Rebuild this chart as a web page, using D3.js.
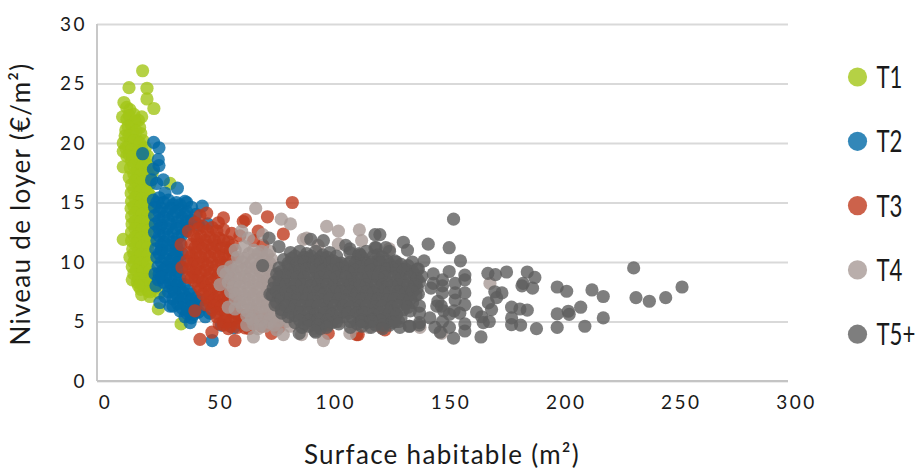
<!DOCTYPE html>
<html><head><meta charset="utf-8">
<script src="https://cdn.jsdelivr.net/npm/d3@7"></script>
<style>html,body{margin:0;background:#fff}svg{display:block}text{font-family:Lato,"Open Sans",sans-serif;font-weight:400;fill:#1a1a1a}</style>
</head><body><div id="c"></div>
<script>
const xTicks=[0,50,100,150,200,250,300];
const yTicks=[0,5,10,15,20,25,30];
const seriesNames=["T1","T2","T3","T4","T5+"];
const seriesColors=["#a2c617","#0069a6","#bf3b1e","#a89a96","#5e5e5e"];
const xTitle="Surface habitable (m²)";
const yTitle="Niveau de loyer (€/m²)";
const t1=[[19.8,26.07],[13.9,24.65],[21.7,24.6],[21.7,23.7],[24.7,22.9],[11.7,23.4],[12.9,23],[14.3,22.8],[11.1,22.2],[19.4,22.2],[16,22.4],[18,21.9],[13,22],[15,21.5],[18.5,21.3],[12.5,21.1],[15.5,20.9],[19,20.8],[12.2,20.6],[14.5,20.3],[17.5,20.2],[20,20.2],[11.4,20],[13.5,19.7],[16.5,19.6],[19.5,19.5],[11.4,19.3],[14,19],[17,19.1],[20.5,18.9],[15,18.5],[18,18.4],[21,18.3],[11.4,18],[14.5,17.9],[17.5,17.7],[21,17.6],[24,17.5],[14,17.1],[17,17],[20,17],[23,17.1],[15,16.5],[18,16.4],[21,16.3],[31.7,16.6],[14.8,15.8],[17.5,15.7],[20.5,15.6],[23,15.6],[15,15.1],[18,15],[21,14.9],[14.8,14.5],[17.5,14.4],[20.5,14.3],[23,14.4],[15,13.8],[18,13.7],[21,13.6],[15.2,13.2],[17.5,13.1],[20.5,13],[23,13],[15,12.5],[18,12.4],[21,12.3],[11.4,11.9],[15,11.8],[17.5,11.7],[20.5,11.6],[23,11.7],[15.5,11.1],[18,11],[21,10.9],[14.3,10.4],[17,10.3],[20,10.2],[23,10.3],[15.3,9.6],[18,9.6],[21,9.5],[16,9],[19,8.9],[22,8.8],[15.3,8.5],[17.5,8.3],[20.5,8.2],[23,8.1],[19,7.7],[22,7.6],[25,7.8],[19.4,7.26],[23,7.1],[27,7.4],[26.6,6.06],[36.5,4.8]];
const t1Core=[[14,22.3],[16.5,21.8],[13.5,21.4],[17,21],[13.8,20.6],[16,20.2],[18.5,20],[12.5,19.6],[15,19.4],[18,19.3],[21,19.6],[13,18.9],[15.5,18.8],[19,18.7],[22,18.9],[16,18.1],[19.5,18],[22.5,18.1],[16,17.4],[19,17.3],[22,17.4],[16.5,16.8],[19.5,16.7],[23,16.6],[16,16.1],[19,16],[22,15.9],[16.5,15.4],[19.5,15.3],[22,15.1],[16,14.7],[19,14.7],[22,14.6],[16.5,14.1],[19.5,14],[22,13.9],[16.5,13.4],[19,13.4],[22,13.3],[16.5,12.8],[19.5,12.7],[22,12.6],[16.5,12.1],[19,12],[22,11.9],[16.5,11.5],[19.5,11.3],[22,11.2],[16,10.7],[19,10.6],[22,10.6],[16,10],[19,9.9],[22,9.9],[17,9.3],[20,9.2],[23,9.3],[18,8.6],[21,8.5],[24,8.6],[20,8],[18,8],[23,7.5]];
const t2=[[24.6,20.05],[26.9,19.6],[19.8,19.1],[26.6,18.6],[26.9,18.1],[24.5,17.8],[23.7,16.9],[28.8,16.9],[25.9,16.6],[34.9,16.2],[29.5,15.8],[24.5,15.2],[38.9,15],[45.7,14.7],[38.2,15.1],[27,15.4],[31,15.2],[34.5,15],[41,14.6],[25,14.6],[28,14.5],[32,14.5],[36,14.4],[39,14.2],[43,14],[25,13.9],[29,13.8],[33,13.9],[37,13.7],[41,13.5],[25.3,13.2],[28,13.1],[32,13.2],[36,13],[39,12.9],[44,13.1],[48,13.2],[25,12.5],[29,12.4],[33,12.5],[37,12.3],[26,11.8],[29,11.7],[33,11.7],[36,11.6],[25.5,11.1],[28,11],[32,11],[35,10.9],[26,10.4],[29.5,10.3],[33,10.3],[36,10.2],[26.5,9.6],[30,9.6],[33,9.6],[37,9.5],[27,9],[30,8.9],[34,8.9],[25.2,9],[26.6,8.5],[29,8.3],[32,8.2],[36,8.2],[25.6,8],[33,7.7],[36,7.7],[40,7.6],[35,7.1],[39,7],[43,7],[29.5,7.1],[27.3,6.6],[31.7,6.3],[35,6.5],[38,6.4],[42,6.5],[46,6.3],[36,5.9],[40,5.8],[43,6],[38.2,5.4],[41,5.3],[49,5.7],[47,5.4],[40.4,4.9],[54,4.7],[59.2,4.46],[50,3.4]];
const t2Core=[[29,15],[26,15],[33,14.8],[36,14.8],[27,14.2],[30.5,14.2],[34.5,14.2],[38,14],[27,13.5],[31,13.5],[35,13.4],[39,13.4],[27,12.8],[30.5,12.8],[34.5,12.8],[38.5,12.6],[27,12.2],[31,12.1],[35,12],[28,11.4],[31,11.4],[34.5,11.3],[27,10.7],[30.5,10.7],[34,10.6],[37,10.7],[28,10],[31.5,10],[35,9.9],[28.5,9.3],[32,9.3],[35,9.2],[28,8.7],[32,8.6],[36,8.6],[31,8],[34.5,8],[38,8.1],[31,7.5],[34,7.4],[37.5,7.4],[41,7.3],[33,6.9],[37,6.8],[41,6.8],[45,6.8],[33,6.3],[37,6.1],[41,6.2],[44,5.8],[39,5.7],[42,5.6]];
const t3=[[84.8,15],[54.9,13.7],[47.6,14.1],[44.7,13.9],[64.5,13.56],[63.5,13.4],[74,13.8],[80.9,12.35],[70,12.6],[58.5,12.4],[52.7,13.3],[42.5,13.3],[39.7,12.6],[36.5,11.46],[36.9,9.56],[39.6,8.7],[42.5,5.9],[47.3,6.4],[49.9,4.1],[44.7,3.5],[59.9,3.4],[75.8,4],[64.3,4.46],[54.9,4.7],[71.5,4.6],[125,4.3],[113.4,3.9],[100.4,4],[112.7,3.9],[123.6,4.5],[46,13],[50,12.9],[55,12.7],[62,12.2],[68,11.8],[72,11.4],[42,12.2],[45,12.2],[49,12.1],[53,12],[57,11.7],[41,11.5],[44,11.5],[48,11.4],[52,11.4],[56,11.2],[40,10.8],[43,10.8],[47,10.7],[51,10.8],[55,10.6],[59,10.5],[39,10.1],[42,10.1],[46,10],[50,10],[54,10],[40,9.4],[43,9.4],[47,9.3],[51,9.3],[55,9.2],[41,8.7],[44,8.7],[48,8.6],[52,8.7],[56,8.5],[44,8],[47,8],[51,7.9],[55,7.9],[46,7.3],[49,7.3],[53,7.2],[57,7.1],[49,6.6],[52,6.6],[56,6.6],[60,6.5],[50,6],[54,6],[58,5.9],[62,5.6],[52,5.4],[56,5.3],[60,5.2],[64,5.1],[68,5],[53,4.8],[58,4.6],[62,4.9],[66,4.4],[79,4.5],[73,5.3]];
const t3Core=[[44,12.8],[48,12.6],[52,12.6],[43.5,11.9],[47,11.8],[51,11.8],[55,11.8],[59,11.4],[42.5,11.2],[46,11.1],[50,11.1],[54,11.1],[58,11],[41,10.5],[45,10.4],[49,10.4],[53,10.4],[57,10.2],[41,9.8],[44,9.8],[48,9.7],[52,9.7],[56,9.7],[42,9.1],[45,9.1],[49,9],[53,9],[57,8.9],[42.5,8.4],[46,8.3],[50,8.3],[54,8.2],[45,7.7],[49,7.6],[53,7.6],[57,7.7],[48,7],[51,6.9],[55,6.9],[59,6.9],[51,6.3],[54,6.3],[58,6.3],[52,5.7],[56,5.7],[60,5.7],[64,5.5],[55,5],[58,5],[62,5.3],[57,4.4],[61,4.5],[68,5.5]];
const t4=[[68.9,14.5],[80,13.6],[84,13.2],[62.8,12.6],[65.7,12],[60,11],[54.8,9.2],[53.4,8.1],[57,6.2],[59.9,6.05],[65,4.7],[67.9,3.7],[80.9,3.9],[98.3,3.4],[109.8,4],[71.5,10.9],[72,12.3],[99.7,13],[104.8,12.6],[113.9,12.7],[114.9,11.8],[104.8,11.5],[89.6,11.9],[126.9,11.1],[88.8,3.9],[140.2,4.5],[149.6,4],[170.6,8.2],[138.7,8.2],[64,11.3],[68,11],[75,10.9],[61,10.4],[64,10.3],[68,10.2],[72,10.3],[76,10.2],[58,9.6],[61,9.6],[65,9.5],[69,9.5],[73,9.6],[56,9],[60,8.9],[64,8.8],[68,8.9],[72,8.8],[76,8.9],[57,8.3],[60,8.2],[64,8.2],[68,8.1],[72,8.2],[75,8.1],[58,7.5],[62,7.5],[66,7.4],[70,7.5],[74,7.4],[78,7.5],[60,6.9],[64,6.8],[68,6.8],[72,6.7],[76,6.8],[63,6.2],[67,6.1],[71,6.2],[75,6.1],[79,6.1],[65,5.5],[69,5.4],[73,5.5],[77,5.4],[81,5.3],[68,4.8],[71,4.7],[75,4.9],[84,4.6],[78,4.3],[94,4.4],[105,5],[112,4.6],[116,5.2],[91,12],[96,11.4],[118,4.5]];
const t4Core=[[66,10.7],[70,10.7],[74,10.6],[63,10],[67,9.9],[71,9.9],[75,9.9],[59,9.3],[63,9.3],[67,9.2],[71,9.2],[75,9.3],[58,8.6],[62,8.6],[66,8.5],[70,8.5],[74,8.5],[59,7.9],[62,7.9],[66,7.8],[70,7.8],[74,7.8],[60,7.3],[64,7.2],[68,7.2],[72,7.1],[76,7.2],[62,6.6],[66,6.5],[70,6.5],[74,6.4],[78,6.5],[65,5.9],[69,5.8],[73,5.8],[77,5.8],[67,5.2],[71,5.1],[75,5.2],[79,5.1],[70,4.4],[73,4.6],[77,4.7],[82,5]];
const t5=[[154.8,13.6],[143.8,11.5],[152.9,11.2],[157.8,10.1],[122.8,12.3],[133,11.66],[134.8,11],[121.2,11.2],[125.4,11.2],[109.8,11.1],[146,9],[152.9,9.2],[159.7,8.9],[159.7,8.5],[169.7,9.05],[173,8.94],[177.8,9.16],[186.8,9.16],[190.1,8.7],[185,8.2],[184.5,8],[189.1,7.8],[199.8,7.9],[203.9,7.54],[214.9,7.65],[219.8,7.1],[175.8,7.4],[172.7,7.5],[173.5,7],[169.9,6.56],[171.3,6],[164.8,5.8],[167,5.4],[167.7,4.9],[170.3,5],[166.7,3.7],[180,6.2],[183.6,6.05],[186.8,5.95],[180,5.3],[180,4.74],[183.9,4.7],[190.8,4.4],[199.8,5.64],[199.8,4.5],[204.6,5.86],[205,5.6],[210,6.2],[211.8,4.6],[219.8,5.3],[233,9.5],[234,7],[239.8,6.7],[246.9,7],[254,7.9],
[146,8.2],[145,7.8],[150,8.5],[150,8],[150,7.4],[155.5,8.2],[159.7,7.4],[155.5,7.4],[155.5,6.8],[159.7,6.4],[148,6.7],[149.5,6.3],[150.5,5.9],[147.5,6.3],[155,5.9],[157.5,5.7],[153,5.6],[144.5,5.3],[140,5.7],[140,6.3],[139.5,7.3],[140,4.9],[135.5,4.6],[131.5,4.5],[146.7,4.5],[150,5],[153,4.5],[159.7,4.8],[159.7,4.2],[154.8,3.6],[149,4.1],
[74.7,12],[79,11.3],[71.9,9.7],[92.8,11.9],[98.3,11.8],[120.7,12.3],[120.7,11.2],[114.2,10.6],[87.8,4],[95,4.1],[80.2,5.7],[75.1,7.3],[77.3,6.4],[109.8,10.8],
[84,10.8],[88,10.9],[91,10.7],[95,10.9],[98,10.6],[101,10.8],[113.5,10.5],[122,10.6],[81,10.2],[84.5,10.3],[88,10.1],[92,10.3],[95.5,10.1],[99,10.2],[102.5,10.1],[106,9.9],[110,10],[113,10.2],[116,10.1],[119,10],[122.5,10.2],[126,10.1],[130,10],[79,9.5],[83,9.7],[86,9.5],[90,9.7],[93,9.6],[97,9.5],[100,9.7],[104,9.5],[107,9.6],[111,9.4],[114,9.6],[118,9.5],[121,9.7],[125,9.5],[128,9.6],[132,9.8],[135,9.7],[139,9.4],[78,9],[81.5,8.9],[85,9.1],[88.5,8.9],[92,9.1],[96,8.9],[99,9],[103,8.9],[106,9.1],[110,8.9],[113,9],[117,8.8],[120,9],[124,8.9],[127,9.1],[131,8.9],[134,9],[138,8.9],[141,8.8],[77,8.3],[81,8.5],[84,8.3],[88,8.5],[91,8.3],[95,8.4],[98,8.3],[102,8.5],[105,8.3],[109,8.4],[112,8.2],[116,8.4],[119,8.3],[123,8.5],[126,8.3],[130,8.4],[133,8.2],[137,8.4],[140,8.3],[76.5,7.8],[80,7.7],[83.5,7.9],[87,7.7],[90,7.8],[94,7.7],[97,7.9],[101,7.7],[104,7.8],[108,7.7],[111,7.9],[115,7.7],[118,7.8],[122,7.7],[125,7.9],[129,7.7],[132,7.8],[136,7.7],[139,7.8],[76,7.2],[79,7.1],[83,7.3],[86,7.1],[90,7.2],[93,7.1],[97,7.3],[100,7.1],[104,7.2],[107,7.1],[111,7.3],[114,7.1],[118,7.2],[121,7.1],[125,7.3],[128,7.1],[132,7.2],[135,7.1],[138.5,7.2],[78,6.6],[81.5,6.7],[85,6.5],[88,6.6],[92,6.5],[95,6.7],[99,6.5],[102,6.6],[106,6.5],[109,6.7],[113,6.5],[116,6.6],[120,6.5],[123,6.7],[127,6.5],[130,6.6],[134,6.5],[137,6.6],[80,6],[84,6.1],[87,5.9],[91,6],[94,5.9],[98,6.1],[101,5.9],[105,6],[108,5.9],[112,6.1],[115,5.9],[119,6],[122,5.9],[126,6.1],[129,5.9],[133,6],[136,5.9],[83,5.4],[86,5.5],[90,5.3],[93,5.4],[97,5.3],[100,5.5],[104,5.3],[107,5.4],[111,5.3],[114,5.5],[118,5.3],[121,5.4],[125,5.3],[128,5.5],[132,5.3],[86,4.9],[90,4.8],[94,5],[98,4.8],[102,4.9],[113,4.8],[117,4.9],[121,4.7],[126,5],[131,5],[89,4.5],[97,4.4],[100,4.7],[119,4.5],[127,4.7]];
const t5Core=[[86,10.5],[90,10.4],[93,10.5],[97,10.4],[100,10.4],[104,10.5],[115,10.4],[120,10.5],[124,10.4],[83,9.9],[87,9.9],[90,10],[94,9.9],[97,9.9],[101,9.9],[104,9.9],[108,9.8],[112,9.9],[115,9.8],[119,9.8],[123,9.9],[127,9.8],[130,9.6],[134,9.4],[80,9.2],[84,9.3],[88,9.3],[91,9.4],[95,9.3],[98,9.3],[102,9.3],[105,9.4],[109,9.2],[112,9.3],[116,9.2],[119,9.3],[123,9.2],[126,9.4],[130,9.3],[133,9.3],[137,9.2],[79,8.7],[83,8.7],[87,8.7],[90,8.7],[94,8.6],[97,8.7],[101,8.7],[104,8.7],[108,8.7],[111,8.6],[115,8.6],[118,8.7],[122,8.7],[125,8.7],[129,8.7],[132,8.6],[136,8.7],[139,8.6],[79,8.1],[82,8.1],[86,8.1],[89,8.1],[93,8],[96,8.1],[100,8.1],[103,8],[107,8.1],[110,8.1],[114,8],[117,8.1],[121,8],[124,8.1],[128,8],[131,8.1],[135,8],[138,8.1],[78,7.5],[82,7.5],[85,7.5],[89,7.5],[92,7.4],[96,7.5],[99,7.4],[103,7.5],[106,7.5],[110,7.5],[113,7.4],[117,7.5],[120,7.4],[124,7.5],[127,7.4],[131,7.5],[134,7.4],[137,7.5],[80,6.9],[84,6.9],[87,6.9],[91,6.9],[94,6.9],[98,6.8],[101,6.9],[105,6.9],[108,6.8],[112,6.9],[115,6.9],[119,6.8],[122,6.9],[126,6.8],[129,6.9],[133,6.8],[136,6.9],[82,6.3],[86,6.3],[89,6.3],[93,6.3],[96,6.3],[100,6.2],[103,6.3],[107,6.3],[110,6.2],[114,6.3],[117,6.3],[121,6.2],[124,6.3],[128,6.2],[131,6.3],[135,6.2],[84,5.7],[88,5.7],[92,5.7],[95,5.6],[99,5.7],[102,5.6],[106,5.7],[109,5.7],[113,5.7],[116,5.7],[120,5.6],[123,5.7],[127,5.7],[130,5.6],[88,5.1],[92,5.1],[96,5.2],[100,5.1],[104,5],[110,5],[115,5.1],[119,5.1],[123,5.1],[128,4.9],[92,4.6],[96,4.7],[115,4.6],[124,4.7]];
const t5Edge=[[113.9,10.7],[129.3,10.1],[136.9,10],[139.5,9.4],[142,10.1],[94.6,4.2],[99.7,4.5],[114.9,5],[119.2,5],[135.8,4.6],[139.9,4.7],[129.3,5],[108,11.4],[117,10.9],[127,10.9],[105,4.8],[110,4.5],[124,4.4]];
const allSeries=[t1.concat(t1Core),t2.concat(t2Core),t3.concat(t3Core),t4.concat(t4Core),t5.concat(t5Core,t5Edge)];

const W=919,H=469,pL=97,pR=788,pT=24,pB=381;
const x=d3.scaleLinear().domain([0,300]).range([pL,pR]);
const y=d3.scaleLinear().domain([0,30]).range([pB,pT]);
const svg=d3.select("#c").append("svg").attr("width",W).attr("height",H);

const gy=svg.append("g").attr("transform",`translate(${pL},0)`)
 .call(d3.axisLeft(y).tickValues(yTicks).tickSize(-(pR-pL)).tickPadding(10).tickFormat(d3.format("d")));
gy.select(".domain").remove();
gy.selectAll("line").attr("stroke","#d9d9d9").attr("stroke-width",2);
gy.selectAll("text").attr("font-size",19).attr("letter-spacing",2.5);
const gx=svg.append("g").attr("transform",`translate(0,${pB})`)
 .call(d3.axisBottom(x).tickValues(xTicks).tickSize(0).tickPadding(15).tickFormat(d3.format("d")));
gx.select(".domain").remove();
gx.selectAll("text").attr("font-size",19).attr("letter-spacing",2.5).attr("dx",8);
svg.append("line").attr("x1",pL).attr("x2",pL).attr("y1",pT).attr("y2",pB).attr("stroke","#c8c8c8").attr("stroke-width",2);
svg.append("line").attr("x1",pL).attr("x2",pR).attr("y1",pB).attr("y2",pB).attr("stroke","#c4c4c4").attr("stroke-width",2);

svg.append("g").selectAll("g").data(allSeries).join("g")
 .attr("fill",(d,i)=>seriesColors[i]).attr("fill-opacity",0.8)
 .selectAll("circle").data(d=>d).join("circle")
 .attr("cx",d=>x(d[0])).attr("cy",d=>y(d[1])).attr("r",6.6);

svg.append("text").attr("x",442).attr("y",464).attr("text-anchor","middle").attr("font-size",26).attr("letter-spacing",1.3).text(xTitle);
svg.append("text").attr("transform","translate(30,204) rotate(-90)").attr("text-anchor","middle").attr("font-size",26).attr("letter-spacing",1.3).text(yTitle);

const lg=svg.append("g").selectAll("g").data(seriesNames).join("g")
 .attr("transform",(d,i)=>`translate(857.5,${77+i*64.3})`);
lg.append("circle").attr("r",9.6).attr("fill",(d,i)=>seriesColors[i]).attr("fill-opacity",0.8);
lg.append("text").attr("transform","translate(19,11) scale(0.74,1)").attr("font-size",30).text(d=>d);
</script></body></html>
